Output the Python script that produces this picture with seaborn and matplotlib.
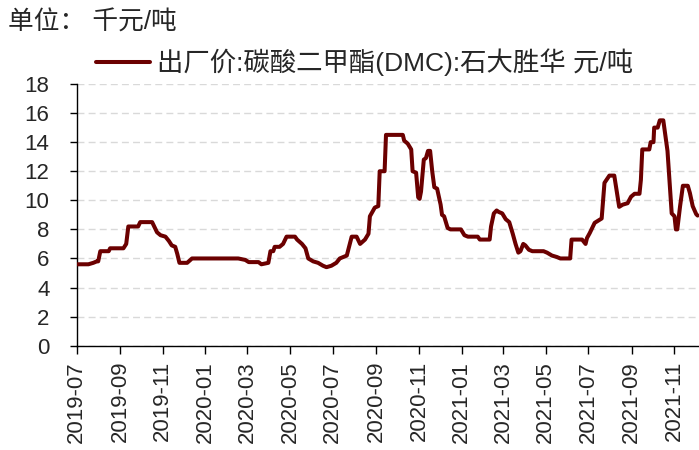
import matplotlib
matplotlib.use("Agg")
import matplotlib.pyplot as plt
import matplotlib.dates as mdates
import pandas as pd
import seaborn as sns

# ---- data ----
dates = [
    "2019-07-01", "2019-07-18", "2019-07-25", "2019-07-30", "2019-08-01", "2019-08-04",
    "2019-08-16", "2019-08-18", "2019-09-06", "2019-09-10", "2019-09-13", "2019-09-27",
    "2019-09-30", "2019-10-17", "2019-10-19", "2019-10-24", "2019-10-29", "2019-11-05",
    "2019-11-10", "2019-11-14", "2019-11-19", "2019-11-22", "2019-11-25", "2019-12-06",
    "2019-12-13", "2020-02-17", "2020-02-27", "2020-03-03", "2020-03-17", "2020-03-21",
    "2020-03-31", "2020-04-03", "2020-04-07", "2020-04-09", "2020-04-16", "2020-04-21",
    "2020-04-26", "2020-05-08", "2020-05-11", "2020-05-18", "2020-05-23", "2020-05-27",
    "2020-06-03", "2020-06-10", "2020-06-17", "2020-06-22", "2020-06-29", "2020-07-06",
    "2020-07-11", "2020-07-21", "2020-07-28", "2020-08-04", "2020-08-09", "2020-08-16",
    "2020-08-21", "2020-08-23", "2020-08-30", "2020-09-04", "2020-09-06", "2020-09-13",
    "2020-09-15", "2020-10-09", "2020-10-11", "2020-10-16", "2020-10-21", "2020-10-23",
    "2020-10-28", "2020-10-31", "2020-11-02", "2020-11-04", "2020-11-08", "2020-11-11",
    "2020-11-14", "2020-11-17", "2020-11-20", "2020-11-23", "2020-11-27", "2020-12-02",
    "2020-12-04", "2020-12-07", "2020-12-12", "2020-12-16", "2020-12-31", "2021-01-05",
    "2021-01-10", "2021-01-24", "2021-01-27", "2021-02-10", "2021-02-12", "2021-02-16",
    "2021-02-20", "2021-02-23", "2021-02-28", "2021-03-05", "2021-03-10", "2021-03-15",
    "2021-03-19", "2021-03-23", "2021-03-26", "2021-03-30", "2021-04-02", "2021-04-07",
    "2021-04-12", "2021-04-28", "2021-05-03", "2021-05-10", "2021-05-17", "2021-05-22",
    "2021-06-05", "2021-06-07", "2021-06-22", "2021-06-27", "2021-06-29", "2021-07-03",
    "2021-07-10", "2021-07-20", "2021-07-24", "2021-07-31", "2021-08-07", "2021-08-14",
    "2021-08-19", "2021-08-26", "2021-08-31", "2021-09-05", "2021-09-12", "2021-09-14",
    "2021-09-16", "2021-09-26", "2021-09-28", "2021-10-02", "2021-10-03", "2021-10-08",
    "2021-10-11", "2021-10-16", "2021-10-22", "2021-10-28", "2021-11-01", "2021-11-03",
    "2021-11-05", "2021-11-09", "2021-11-13", "2021-11-20", "2021-11-23", "2021-11-27",
    "2021-12-02", "2021-12-04",
]
prices = [
    5.6, 5.6, 5.7, 5.8, 5.8, 6.5,
    6.5, 6.7, 6.7, 7.0, 8.2, 8.2,
    8.5, 8.5, 8.3, 7.8, 7.6, 7.5,
    7.2, 6.9, 6.8, 6.3, 5.7, 5.7,
    6.0, 6.0, 5.9, 5.75, 5.75, 5.6,
    5.7, 6.5, 6.5, 6.8, 6.8, 7.0,
    7.5, 7.5, 7.3, 7.0, 6.7, 6.0,
    5.8, 5.7, 5.5, 5.4, 5.5, 5.7,
    6.0, 6.2, 7.5, 7.5, 7.0, 7.3,
    7.7, 8.9, 9.5, 9.6, 12.0, 12.0,
    14.5, 14.5, 14.1, 13.9, 13.5, 12.0,
    11.9, 10.2, 10.1, 10.6, 12.8, 12.9,
    13.4, 13.4, 12.0, 10.9, 10.8, 9.7,
    9.0, 8.9, 8.1, 8.0, 8.0, 7.6,
    7.5, 7.5, 7.3, 7.3, 8.2, 9.1,
    9.3, 9.2, 9.1, 8.7, 8.5, 7.7,
    7.0, 6.4, 6.5, 7.0, 6.9, 6.6,
    6.5, 6.5, 6.4, 6.2, 6.1, 6.0,
    6.0, 7.3, 7.3, 7.0, 7.4, 7.75,
    8.45, 8.75, 11.2, 11.7, 11.7, 9.55,
    9.7, 9.8, 10.25, 10.45, 10.45, 11.4,
    13.5, 13.5, 14.0, 14.0, 15.0, 15.0,
    15.5, 15.5, 13.4, 9.1, 8.9, 8.0,
    8.0, 9.6, 11.0, 11.0, 10.5, 9.6,
    9.05, 8.95,
]
series_label = "出厂价:碳酸二甲酯(DMC):石大胜华 元/吨"
unit_label = "单位： 千元/吨"
y_ticks = [0, 2, 4, 6, 8, 10, 12, 14, 16, 18]

df = pd.DataFrame({"date": pd.to_datetime(dates), "price": prices})

sns.set_style("white")
plt.rcParams["font.family"] = ["Liberation Sans", "Noto Sans CJK SC"]
plt.rcParams["axes.unicode_minus"] = False

fig = plt.figure(figsize=(6.99, 4.5), dpi=100)
ax = fig.add_axes([76.5 / 699, 1 - 345.7 / 450, (699 - 76.5) / 699, (345.7 - 84) / 450])

sns.lineplot(data=df, x="date", y="price", ax=ax, color="#6B0000",
             linewidth=2.9, label=series_label, zorder=3)

ax.set_ylim(0, 18)
ax.set_yticks(y_ticks)
ax.set_xlim(pd.Timestamp("2019-07-01"), pd.Timestamp("2021-12-06"))
ax.xaxis.set_major_locator(mdates.MonthLocator(bymonth=[1, 3, 5, 7, 9, 11]))
ax.xaxis.set_major_formatter(mdates.DateFormatter("%Y-%m"))
ax.set_xlabel("")
ax.set_ylabel("")

ax.grid(axis="y", color="#D9D9D9", linestyle=(0, (5, 3)), linewidth=1.0, zorder=0)
ax.grid(axis="x", visible=False)

for s in ["top", "right"]:
    ax.spines[s].set_visible(False)
for s in ["left", "bottom"]:
    ax.spines[s].set_color("black")
    ax.spines[s].set_linewidth(1.0)

ax.tick_params(axis="y", which="major", direction="out", length=5, width=1.0,
               color="black", labelsize=16, pad=14.5, left=True)
ax.tick_params(axis="x", which="major", direction="out", length=5.5, width=1.0,
               color="black", labelsize=16, pad=5.5, bottom=True)
for lab in ax.get_xticklabels():
    lab.set_rotation(90)

leg = ax.legend(loc="center left", bbox_to_anchor=(96 / 699, 1 - 62 / 450),
                bbox_transform=fig.transFigure, frameon=False, fontsize=19,
                handlelength=2.05, handletextpad=0.27, borderpad=0, borderaxespad=0)

fig.text(8 / 699, 1 - 23 / 450, unit_label, fontsize=18.5, ha="left", va="center")

fig.savefig("out.png", dpi=100)
